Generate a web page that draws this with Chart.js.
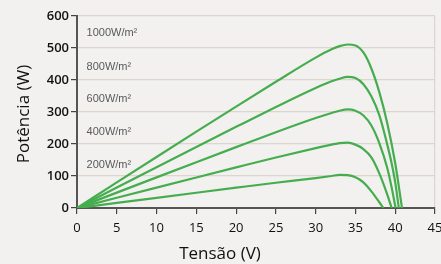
<!DOCTYPE html>
<html>
<head>
<meta charset="utf-8">
<script src="https://cdn.jsdelivr.net/npm/chart.js@4.4.0/dist/chart.umd.min.js"></script>
<style>
  html, body { margin: 0; padding: 0; background: #f2f1ef; overflow: hidden; }
  #wrap { width: 441px; height: 264px; position: relative; }
</style>
</head>
<body>
<div id="wrap"><canvas id="pvChart"></canvas></div>
<script>
// Curvas P-V por irradiância (tensão em V, potência em W)
const irradianceLabels = ['1000W/m²', '800W/m²', '600W/m²', '400W/m²', '200W/m²'];
const labelPower = [546, 442, 340, 238, 133];

const v1000 = [0, 5, 10, 15, 20, 25, 30, 32, 33, 34, 35, 36, 37, 38, 39, 40, 40.85];
const p1000 = [0, 80, 159.5, 238.5, 317, 394.5, 470, 496, 506, 511, 508, 486, 436, 362, 265, 140, 0];

const v800 = [0, 5, 10, 15, 20, 25, 30, 32, 33, 34, 35, 36, 37, 38, 39, 39.5, 40, 40.45];
const p800 = [0, 64, 127.6, 190.8, 253.6, 315.6, 375, 396, 404, 410, 406, 387, 349, 290, 198, 145, 80, 0];

const v600 = [0, 5, 10, 15, 20, 25, 30, 32, 33, 34, 35, 36, 37, 38, 39, 39.5, 40.05];
const p600 = [0, 48, 95.7, 143.1, 190.2, 236.7, 281, 297, 304, 308, 304, 289, 258, 203, 125, 70, 0];

const v400 = [0, 5, 10, 15, 20, 25, 30, 32, 33, 34, 35, 36, 37, 38, 39, 39.55];
const p400 = [0, 32, 63.8, 95.4, 126.8, 157.8, 187, 198, 203, 204, 198, 184, 158, 108, 42, 0];

const v200 = [0, 5, 10, 15, 20, 25, 30, 32, 33, 34, 35, 36, 37, 38, 38.5];
const p200 = [0, 16, 31.9, 47.7, 63.4, 78.9, 93.5, 100, 103.5, 102.5, 96, 80, 52, 18, 0];

const xTicks = [0, 5, 10, 15, 20, 25, 30, 35, 40, 45];
const yTicks = [0, 100, 200, 300, 400, 500, 600];

const lineColor = '#46ad4f';

function toPoints(vs, ps) {
    return vs.map((v, i) => ({ x: v, y: ps[i] }));
}

const series = [[v1000, p1000], [v800, p800], [v600, p600], [v400, p400], [v200, p200]];

const datasets = series.map((s, i) => ({
    label: irradianceLabels[i],
    data: toPoints(s[0], s[1]),
    borderColor: lineColor,
    borderWidth: 2.2,
    pointRadius: 0,
    fill: false,
    cubicInterpolationMode: 'monotone'
}));

// fundo, rótulos de irradiância e títulos dos eixos
const extras = {
    id: 'extras',
    beforeDraw(chart) {
        const ctx = chart.ctx;
        ctx.save();
        ctx.fillStyle = '#f2f1ef';
        ctx.fillRect(0, 0, chart.width, chart.height);
        ctx.restore();
    },
    afterDraw(chart) {
        const ctx = chart.ctx;
        const xs = chart.scales.x, ys = chart.scales.y;
        ctx.save();
        ctx.fillStyle = '#5a5a5a';
        ctx.font = '11px "Liberation Sans", Arial, sans-serif';
        ctx.textAlign = 'left';
        ctx.textBaseline = 'middle';
        irradianceLabels.forEach((t, i) => {
            ctx.fillText(t, xs.getPixelForValue(1.2), ys.getPixelForValue(labelPower[i]));
        });

        ctx.fillStyle = '#111';
        ctx.font = '17px "Open Sans", sans-serif';
        ctx.textAlign = 'center';
        ctx.textBaseline = 'middle';
        ctx.fillText('Tensão (V)', 220, 254);

        ctx.translate(24, 114);
        ctx.rotate(-Math.PI / 2);
        ctx.fillText('Potência (W)', 0, 0);
        ctx.restore();
    }
};

new Chart(document.getElementById('pvChart'), {
    type: 'line',
    data: { datasets: datasets },
    options: {
        responsive: true,
        maintainAspectRatio: false,
        animation: false,
        layout: { padding: { top: 16, right: 6, left: 0, bottom: 0 } },
        plugins: { legend: { display: false }, tooltip: { enabled: false } },
        scales: {
            x: {
                type: 'linear',
                min: 0, max: 45,
                afterBuildTicks: s => { s.ticks = xTicks.map(v => ({ value: v })); },
                afterFit: s => { s.height = 56; s.paddingLeft = 0; s.paddingRight = 0; },
                border: { color: '#555', width: 2 },
                grid: {
                    color: c => (c.tick && c.tick.value === 45) ? '#dcd6cf' : 'rgba(0,0,0,0)',
                    tickColor: '#444',
                    tickLength: 6,
                    lineWidth: 1.2
                },
                ticks: {
                    color: '#111',
                    padding: 6,
                    font: { family: '"Open Sans", sans-serif', size: 13 }
                }
            },
            y: {
                min: 0, max: 600,
                afterBuildTicks: s => { s.ticks = yTicks.map(v => ({ value: v })); },
                afterFit: s => { s.width = 77; s.paddingTop = 0; s.paddingBottom = 0; },
                border: { color: '#555', width: 2 },
                grid: {
                    color: '#dcd6cf',
                    tickColor: '#444',
                    tickLength: 6,
                    lineWidth: 1.2
                },
                ticks: {
                    color: '#111',
                    padding: 2,
                    font: { family: '"Open Sans", sans-serif', size: 13, weight: '600' }
                }
            }
        }
    },
    plugins: [extras]
});
</script>
</body>
</html>
